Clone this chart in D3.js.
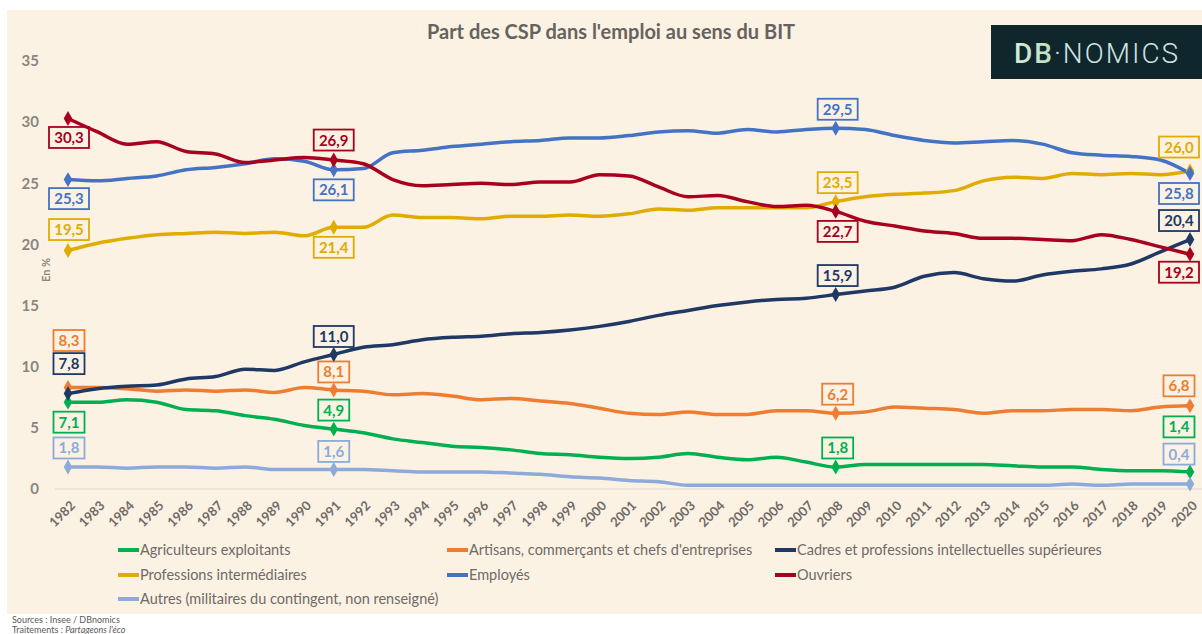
<!DOCTYPE html>
<html>
<head>
<meta charset="utf-8">
<script src="https://cdn.jsdelivr.net/npm/d3@7"></script>
<style>
  body { margin: 0; background: #fff; }
  svg { display: block; font-family: Lato, "Open Sans", sans-serif; }
</style>
</head>
<body>
<svg id="chart" width="1202" height="634"></svg>
<script>
// données (en %)
var years = [1982, 1983, 1984, 1985, 1986, 1987, 1988, 1989, 1990, 1991, 1992, 1993, 1994, 1995, 1996,
  1997, 1998, 1999, 2000, 2001, 2002, 2003, 2004, 2005, 2006, 2007, 2008, 2009, 2010, 2011, 2012, 2013,
  2014, 2015, 2016, 2017, 2018, 2019, 2020];

var agriculteurs = [7.1, 7.1, 7.3, 7.1, 6.5, 6.4, 6.0, 5.7, 5.2, 4.9, 4.6, 4.1, 3.8, 3.5, 3.4, 3.2, 2.9, 2.8,
  2.6, 2.5, 2.6, 2.9, 2.6, 2.4, 2.6, 2.2, 1.8, 2.0, 2.0, 2.0, 2.0, 2.0, 1.9, 1.8, 1.8, 1.6, 1.5, 1.5, 1.4];
var artisans = [8.3, 8.3, 8.2, 8.0, 8.1, 8.0, 8.1, 7.9, 8.3, 8.1, 8.0, 7.7, 7.8, 7.6, 7.3, 7.4, 7.2, 7.0,
  6.6, 6.2, 6.1, 6.3, 6.1, 6.1, 6.4, 6.4, 6.2, 6.3, 6.7, 6.6, 6.5, 6.2, 6.4, 6.4, 6.5, 6.5, 6.4, 6.7, 6.8];
var cadres = [7.8, 8.2, 8.4, 8.5, 9.0, 9.2, 9.8, 9.7, 10.4, 11.0, 11.6, 11.8, 12.2, 12.4, 12.5, 12.7, 12.8, 13.0,
  13.3, 13.7, 14.2, 14.6, 15.0, 15.3, 15.5, 15.6, 15.9, 16.2, 16.5, 17.4, 17.7, 17.2, 17.0, 17.5, 17.8, 18.0, 18.4, 19.4, 20.4];
var professions = [19.5, 20.1, 20.5, 20.8, 20.9, 21.0, 20.9, 21.0, 20.7, 21.4, 21.4, 22.4, 22.2, 22.2, 22.1, 22.3,
  22.3, 22.4, 22.3, 22.5, 22.9, 22.8, 23.0, 23.0, 23.0, 23.0, 23.5, 23.9, 24.1, 24.2, 24.4, 25.2, 25.5, 25.4, 25.8,
  25.7, 25.8, 25.7, 26.0];
var employes = [25.3, 25.2, 25.4, 25.6, 26.1, 26.3, 26.6, 27.0, 26.8, 26.1, 26.2, 27.5, 27.7, 28.0, 28.2, 28.4, 28.5,
  28.7, 28.7, 28.9, 29.2, 29.3, 29.1, 29.4, 29.2, 29.4, 29.5, 29.4, 28.9, 28.5, 28.3, 28.4, 28.5, 28.2, 27.5,
  27.3, 27.2, 26.9, 25.8];
var ouvriers = [30.3, 29.2, 28.2, 28.4, 27.6, 27.4, 26.7, 26.9, 27.1, 26.9, 26.6, 25.3, 24.8, 24.9, 25.0, 24.9, 25.1,
  25.1, 25.7, 25.6, 24.7, 23.9, 24.0, 23.5, 23.1, 23.2, 22.7, 21.9, 21.5, 21.1, 20.9, 20.5, 20.5, 20.4, 20.3,
  20.8, 20.4, 19.8, 19.2];
var autres = [1.8, 1.8, 1.7, 1.8, 1.8, 1.7, 1.8, 1.6, 1.6, 1.6, 1.6, 1.5, 1.4, 1.4, 1.4, 1.3, 1.2, 1.0, 0.9, 0.7,
  0.6, 0.3, 0.3, 0.3, 0.3, 0.3, 0.3, 0.3, 0.3, 0.3, 0.3, 0.3, 0.3, 0.3, 0.4, 0.3, 0.4, 0.4, 0.4];

var yTicks = [0, 5, 10, 15, 20, 25, 30, 35];
var labelYears = [1982, 1991, 2008, 2020];

var series = [
  { name: "Agriculteurs exploitants", values: agriculteurs, color: "#00b050" },
  { name: "Artisans, commerçants et chefs d'entreprises", values: artisans, color: "#ed7d31" },
  { name: "Cadres et professions intellectuelles supérieures", values: cadres, color: "#1f3864" },
  { name: "Professions intermédiaires", values: professions, color: "#e0ac00" },
  { name: "Employés", values: employes, color: "#4472c4" },
  { name: "Ouvriers", values: ouvriers, color: "#a8001f" },
  { name: "Autres (militaires du contingent, non renseigné)", values: autres, color: "#8eaadb" }
];

// décalage vertical des étiquettes (centre de la boîte par rapport au point), par année étiquetée
var labelDy = [
  [20, -19, -19, -45],
  [-47, -18, -19, -20],
  [-30, -18, -19, -19],
  [-21, 20, -19, -24],
  [19, 20, -19, 20],
  [19, -20, 20, 18],
  [-19, -18, null, -30]
];
// décalage horizontal, par année étiquetée (les dernières collent au bord droit)
var labelDx = [1, 0, 2, -11];

var svg = d3.select("#chart");

// fond crème
svg.append("rect").attr("x", 7).attr("y", 10).attr("width", 1195).attr("height", 604).attr("fill", "#fbf2e4");

var x = d3.scalePoint().domain(years).range([68, 1190]);
var y = d3.scaleLinear().domain([0, 35]).range([489, 61]);

// titre
svg.append("text").attr("x", 611).attr("y", 39).attr("text-anchor", "middle")
  .attr("font-size", 20).attr("font-weight", 700).attr("fill", "#66625e")
  .text("Part des CSP dans l'emploi au sens du BIT");

// logo DBnomics
var logo = svg.append("g");
logo.append("rect").attr("x", 991).attr("y", 25).attr("width", 211).attr("height", 54).attr("fill", "#10262d");
var grad = svg.append("defs").append("linearGradient").attr("id", "dbg");
grad.append("stop").attr("offset", "0%").attr("stop-color", "#d4ecd6");
grad.append("stop").attr("offset", "100%").attr("stop-color", "#6fae83");
var lt = logo.append("text").attr("x", 1014).attr("y", 63).attr("font-size", 28)
  .attr("font-family", "Roboto, 'DejaVu Sans', sans-serif").attr("letter-spacing", 2);
lt.append("tspan").attr("fill", "url(#dbg)").attr("font-weight", 500).text("DB");
lt.append("tspan").attr("fill", "#cfe3e0").attr("font-weight", 300).text("·NOMICS");

// axe Y
var yAxis = svg.append("g").attr("transform", "translate(53,0)")
  .call(d3.axisLeft(y).tickValues(yTicks).tickSize(0).tickPadding(14));
yAxis.select(".domain").remove();
yAxis.selectAll("text").attr("font-size", 15).attr("font-weight", 700).attr("fill", "#8a8580")
  .attr("font-family", "Lato, sans-serif");

svg.append("line").attr("x1", 55).attr("x2", 1202).attr("y1", y(0)).attr("y2", y(0))
  .attr("stroke", "#ddd8d0").attr("stroke-width", 1);

svg.append("text").attr("transform", "translate(50,270) rotate(-90)").attr("text-anchor", "middle")
  .attr("font-size", 11).attr("font-weight", 700).attr("fill", "#8a8580").text("En %");

// axe X
var xAxis = svg.append("g").attr("transform", "translate(0," + y(0) + ")")
  .call(d3.axisBottom(x).tickSize(0));
xAxis.select(".domain").remove();
xAxis.selectAll("text")
  .attr("font-size", 13).attr("font-weight", 700).attr("fill", "#6f6a66")
  .attr("font-family", "Lato, sans-serif")
  .attr("text-anchor", "end")
  .attr("transform", "translate(-2,8) rotate(-45)")
  .attr("dy", "0.8em");

// courbes
var line = d3.line().x(function (d, i) { return x(years[i]); }).y(function (d) { return y(d); })
  .curve(d3.curveMonotoneX);

series.forEach(function (s) {
  svg.append("path").datum(s.values).attr("d", line)
    .attr("fill", "none").attr("stroke", s.color).attr("stroke-width", 3.5)
    .attr("stroke-linejoin", "round");
});

// points et étiquettes
series.forEach(function (s, si) {
  labelYears.forEach(function (yr, li) {
    var dy = labelDy[si][li];
    if (dy === null) return;
    var v = s.values[years.indexOf(yr)];
    var px = x(yr), py = y(v);
    svg.append("path").attr("d", d3.symbol(d3.symbolDiamond, 64)())
      .attr("transform", "translate(" + px + "," + py + ")").attr("fill", s.color);
    var txt = v.toFixed(1).replace(".", ",");
    var w = txt.length > 3 ? 40 : 31;
    var cx = px + labelDx[li];
    svg.append("rect").attr("x", cx - w / 2).attr("y", py + dy - 10.5)
      .attr("width", w).attr("height", 21).attr("fill", "none")
      .attr("stroke", s.color).attr("stroke-width", 1.8);
    svg.append("text").attr("x", cx).attr("y", py + dy + 5.5).attr("text-anchor", "middle")
      .attr("font-size", 15).attr("font-weight", 700).attr("fill", s.color).text(txt);
  });
});

// légende
var legendCols = [118, 447, 775];
var legendRows = [550, 575, 599];
series.forEach(function (s, i) {
  var lx = legendCols[i % 3], ly = legendRows[Math.floor(i / 3)];
  svg.append("line").attr("x1", lx).attr("x2", lx + 21).attr("y1", ly).attr("y2", ly)
    .attr("stroke", s.color).attr("stroke-width", 4);
  svg.append("text").attr("x", lx + 22).attr("y", ly + 5).attr("font-size", 14.5)
    .attr("fill", "#6f6a66").text(s.name);
});

// sources
svg.append("text").attr("x", 12).attr("y", 623).attr("font-size", 9).attr("fill", "#595959")
  .text("Sources : Insee / DBnomics");
var tr = svg.append("text").attr("x", 12).attr("y", 633).attr("font-size", 9).attr("fill", "#595959");
tr.append("tspan").text("Traitements : ");
tr.append("tspan").attr("font-style", "italic").text("Partageons l'éco");
</script>
</body>
</html>
